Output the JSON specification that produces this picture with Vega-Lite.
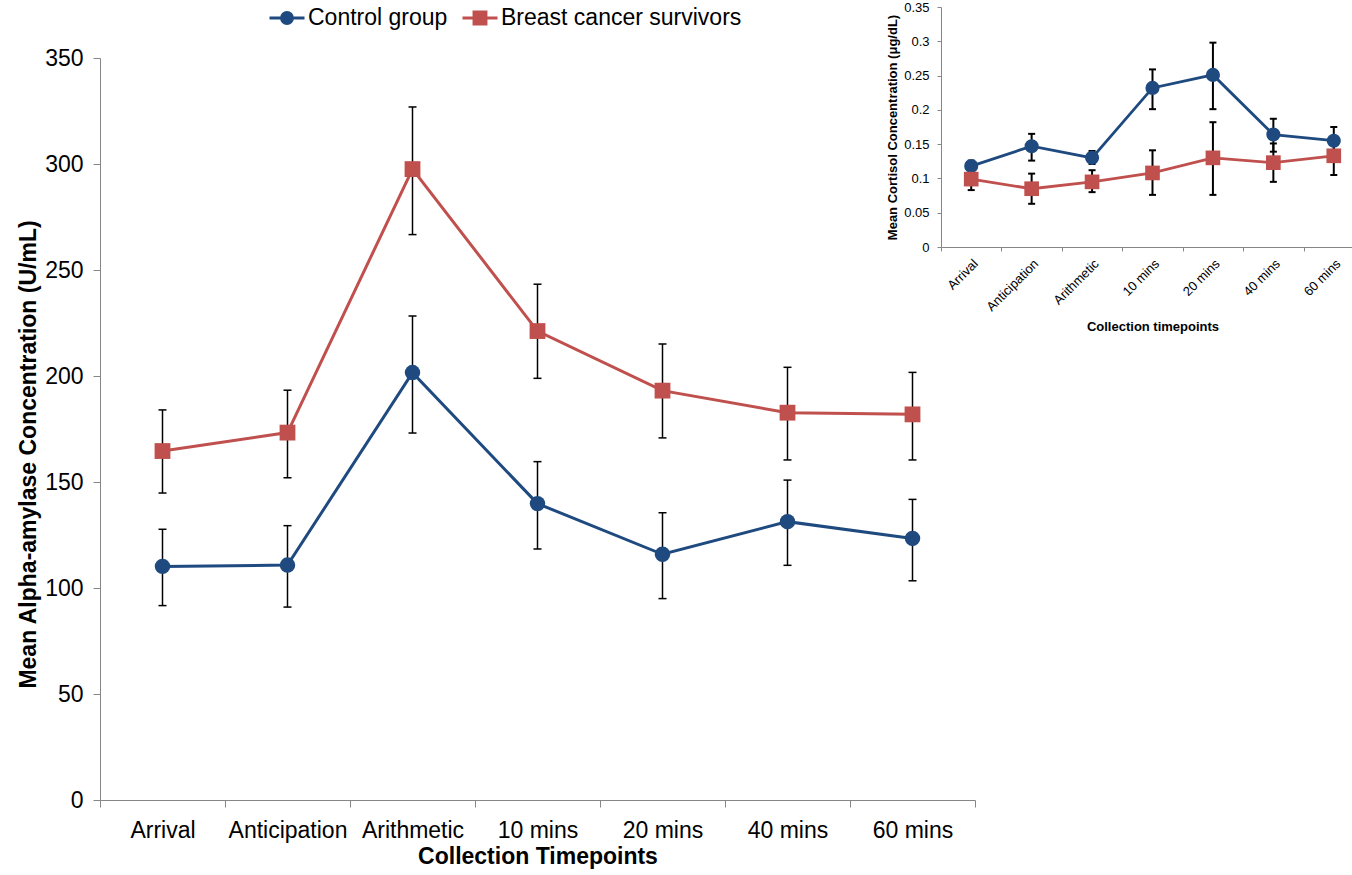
{
  "$schema": "https://vega.github.io/schema/vega-lite/v6.json",
  "width": 1252,
  "height": 793,
  "autosize": "none",
  "padding": {"left": 100, "top": 7, "right": 0, "bottom": 75},
  "background": "white",
  "config": {
    "view": {"stroke": null},
    "font": "Liberation Sans",
    "axis": {"labelColor": "black", "titleColor": "black", "grid": false, "domainColor": "#868686", "tickColor": "#868686", "domainWidth": 1, "tickWidth": 1},
    "legend": {
      "orient": "none", "legendX": 168, "legendY": -8, "direction": "horizontal", "title": null,
      "labelFontSize": 23, "labelColor": "black", "labelLimit": 500, "symbolSize": 1225, "labelOffset": 2, "columnPadding": 8, "padding": 0
    }
  },
  "datasets": {
    "main": [
      {"time": "Arrival", "group": "Control group", "mean": 110.2, "lo": 91.7, "hi": 127.7},
      {"time": "Anticipation", "group": "Control group", "mean": 110.8, "lo": 91.0, "hi": 129.4},
      {"time": "Arithmetic", "group": "Control group", "mean": 201.6, "lo": 173.1, "hi": 228.3},
      {"time": "10 mins", "group": "Control group", "mean": 139.8, "lo": 118.4, "hi": 159.6},
      {"time": "20 mins", "group": "Control group", "mean": 115.9, "lo": 95.0, "hi": 135.5},
      {"time": "40 mins", "group": "Control group", "mean": 131.3, "lo": 110.7, "hi": 150.9},
      {"time": "60 mins", "group": "Control group", "mean": 123.4, "lo": 103.4, "hi": 141.8},
      {"time": "Arrival", "group": "Breast cancer survivors", "mean": 164.6, "lo": 144.8, "hi": 184.0},
      {"time": "Anticipation", "group": "Breast cancer survivors", "mean": 173.3, "lo": 152.0, "hi": 193.3},
      {"time": "Arithmetic", "group": "Breast cancer survivors", "mean": 297.6, "lo": 266.7, "hi": 326.9},
      {"time": "10 mins", "group": "Breast cancer survivors", "mean": 221.2, "lo": 198.9, "hi": 243.3},
      {"time": "20 mins", "group": "Breast cancer survivors", "mean": 193.1, "lo": 170.8, "hi": 215.1},
      {"time": "40 mins", "group": "Breast cancer survivors", "mean": 182.7, "lo": 160.4, "hi": 204.1},
      {"time": "60 mins", "group": "Breast cancer survivors", "mean": 181.9, "lo": 160.4, "hi": 201.7}
    ],
    "inset": [
      {"time": "Arrival", "group": "Control group", "mean": 0.118, "lo": 0.111, "hi": 0.126},
      {"time": "Anticipation", "group": "Control group", "mean": 0.147, "lo": 0.126, "hi": 0.165},
      {"time": "Arithmetic", "group": "Control group", "mean": 0.130, "lo": 0.121, "hi": 0.140},
      {"time": "10 mins", "group": "Control group", "mean": 0.232, "lo": 0.201, "hi": 0.259},
      {"time": "20 mins", "group": "Control group", "mean": 0.251, "lo": 0.201, "hi": 0.298},
      {"time": "40 mins", "group": "Control group", "mean": 0.164, "lo": 0.139, "hi": 0.187},
      {"time": "60 mins", "group": "Control group", "mean": 0.155, "lo": 0.136, "hi": 0.175},
      {"time": "Arrival", "group": "Breast cancer survivors", "mean": 0.099, "lo": 0.083, "hi": 0.108},
      {"time": "Anticipation", "group": "Breast cancer survivors", "mean": 0.085, "lo": 0.063, "hi": 0.107},
      {"time": "Arithmetic", "group": "Breast cancer survivors", "mean": 0.095, "lo": 0.080, "hi": 0.112},
      {"time": "10 mins", "group": "Breast cancer survivors", "mean": 0.108, "lo": 0.076, "hi": 0.141},
      {"time": "20 mins", "group": "Breast cancer survivors", "mean": 0.130, "lo": 0.076, "hi": 0.182},
      {"time": "40 mins", "group": "Breast cancer survivors", "mean": 0.123, "lo": 0.095, "hi": 0.151},
      {"time": "60 mins", "group": "Breast cancer survivors", "mean": 0.133, "lo": 0.105, "hi": 0.152}
    ]
  },
  "layer": [
    {
      "data": {"name": "main"},
      "encoding": {
        "x": {
          "field": "time", "type": "nominal",
          "sort": ["Arrival", "Anticipation", "Arithmetic", "10 mins", "20 mins", "40 mins", "60 mins"],
          "scale": {"type": "band", "range": [0, 875], "paddingInner": 0, "paddingOuter": 0},
          "axis": {
            "orient": "bottom", "title": "Collection Timepoints", "titleFontSize": 23, "titleFontWeight": "bold",
            "labelFontSize": 23, "labelAngle": 0, "tickSize": 7, "tickBand": "extent", "labelPadding": 12, "titlePadding": 3
          }
        }
      },
      "layer": [
        {
          "mark": {"type": "rule", "color": "black", "strokeWidth": 1.5},
          "encoding": {
            "y": {"field": "lo", "type": "quantitative", "title": "Mean Alpha-amylase Concentration (U/mL)"},
            "y2": {"field": "hi"}
          }
        },
        {
          "mark": {"type": "tick", "color": "black", "size": 8, "thickness": 1.5, "opacity": 1},
          "encoding": {"y": {"field": "lo", "type": "quantitative", "title": "Mean Alpha-amylase Concentration (U/mL)"}}
        },
        {
          "mark": {"type": "tick", "color": "black", "size": 8, "thickness": 1.5, "opacity": 1},
          "encoding": {"y": {"field": "hi", "type": "quantitative", "title": "Mean Alpha-amylase Concentration (U/mL)"}}
        },
        {
          "mark": {"type": "line", "strokeWidth": 3},
          "encoding": {
            "y": {
              "field": "mean", "type": "quantitative",
              "scale": {"domain": [0, 350], "range": [793, 51], "nice": false},
              "axis": {
                "orient": "left", "title": "Mean Alpha-amylase Concentration (U/mL)", "titleFontSize": 23, "titleFontWeight": "bold",
                "values": [0, 50, 100, 150, 200, 250, 300, 350], "labelFontSize": 23, "tickSize": 7, "labelPadding": 10, "titlePadding": 4, "titleY": 447
              }
            },
            "color": {
              "field": "group", "type": "nominal",
              "scale": {"domain": ["Control group", "Breast cancer survivors"], "range": ["#1F4A80", "#C0504D"]},
              "legend": {
                "encode": {
                  "symbols": {
                    "update": {
                      "shape": {"signal": "datum.value === 'Control group' ? 'M-1,0H1M-0.31,0A0.31,0.31,0,1,1,0.31,0A0.31,0.31,0,1,1,-0.31,0Z' : 'M-1,0H1M-0.34,-0.34H0.34V0.34H-0.34Z'"},
                      "fill": {"signal": "scale('color', datum.value)"},
                      "stroke": {"signal": "scale('color', datum.value)"},
                      "strokeWidth": {"value": 3},
                      "opacity": {"value": 1},
                      "fillOpacity": {"value": 1},
                      "size": {"value": 1225}
                    }
                  }
                }
              }
            }
          }
        },
        {
          "mark": {"type": "point", "filled": true, "opacity": 1, "size": 240},
          "transform": [{"filter": "datum.group === 'Control group'"}],
          "encoding": {
            "y": {"field": "mean", "type": "quantitative"},
            "color": {"field": "group", "type": "nominal", "legend": null}
          }
        },
        {
          "mark": {"type": "point", "filled": true, "opacity": 1, "size": 250, "shape": "square"},
          "transform": [{"filter": "datum.group === 'Breast cancer survivors'"}],
          "encoding": {
            "y": {"field": "mean", "type": "quantitative"},
            "color": {"field": "group", "type": "nominal", "legend": null}
          }
        }
      ]
    },
    {
      "data": {"name": "inset"},
      "encoding": {
        "x": {
          "field": "time", "type": "nominal",
          "sort": ["Arrival", "Anticipation", "Arithmetic", "10 mins", "20 mins", "40 mins", "60 mins"],
          "scale": {"type": "band", "range": [841, 1264], "paddingInner": 0, "paddingOuter": 0},
          "axis": {
            "orient": "bottom", "offset": -553, "title": "Collection timepoints", "titleFontSize": 13, "titleFontWeight": "bold",
            "labelFontSize": 13, "labelAngle": -45, "tickSize": 4, "tickBand": "extent", "labelPadding": 6, "titlePadding": 7
          }
        }
      },
      "layer": [
        {
          "mark": {"type": "rule", "color": "black", "strokeWidth": 2},
          "encoding": {
            "y": {"field": "lo", "type": "quantitative", "title": "Mean Cortisol Concentration  (μg/dL)"},
            "y2": {"field": "hi"}
          }
        },
        {
          "mark": {"type": "tick", "color": "black", "size": 7, "thickness": 2, "opacity": 1},
          "encoding": {"y": {"field": "lo", "type": "quantitative", "title": "Mean Cortisol Concentration  (μg/dL)"}}
        },
        {
          "mark": {"type": "tick", "color": "black", "size": 7, "thickness": 2, "opacity": 1},
          "encoding": {"y": {"field": "hi", "type": "quantitative", "title": "Mean Cortisol Concentration  (μg/dL)"}}
        },
        {
          "mark": {"type": "line", "strokeWidth": 2.8},
          "encoding": {
            "y": {
              "field": "mean", "type": "quantitative",
              "scale": {"domain": [0, 0.35], "range": [240, 0], "nice": false},
              "axis": {
                "orient": "left", "offset": -841, "title": "Mean Cortisol Concentration  (μg/dL)", "titleFontSize": 13, "titleFontWeight": "bold",
                "values": [0, 0.05, 0.1, 0.15, 0.2, 0.25, 0.3, 0.35], "format": "~g", "labelFontSize": 13, "tickSize": 4, "labelPadding": 8, "titlePadding": 4
              }
            },
            "color": {"field": "group", "type": "nominal", "legend": null}
          }
        },
        {
          "mark": {"type": "point", "filled": true, "opacity": 1, "size": 200},
          "transform": [{"filter": "datum.group === 'Control group'"}],
          "encoding": {
            "y": {"field": "mean", "type": "quantitative"},
            "color": {"field": "group", "type": "nominal", "legend": null}
          }
        },
        {
          "mark": {"type": "point", "filled": true, "opacity": 1, "size": 215, "shape": "square"},
          "transform": [{"filter": "datum.group === 'Breast cancer survivors'"}],
          "encoding": {
            "y": {"field": "mean", "type": "quantitative"},
            "color": {"field": "group", "type": "nominal", "legend": null}
          }
        }
      ]
    }
  ],
  "resolve": {"scale": {"x": "independent", "y": "independent"}}
}
